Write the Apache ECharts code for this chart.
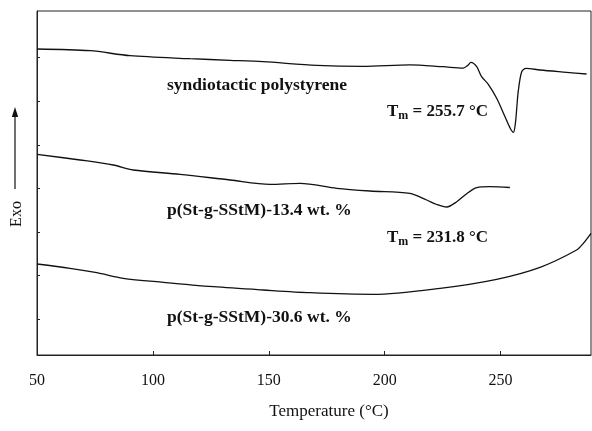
<!DOCTYPE html>
<html>
<head>
<meta charset="utf-8">
<script src="https://cdn.jsdelivr.net/npm/echarts@6/dist/echarts.min.js"></script>
<style>
html,body{margin:0;padding:0;background:#fff;}
#chart{width:592px;height:431px;}
</style>
</head>
<body>
<div id="chart"></div>
<script>
// Temperature (°C) and heat flow (arbitrary units, exo up)
var sPSTemp = [50, 72.9, 90.1, 116, 133.3, 147.5, 170.7, 190.6, 210.9, 225.2, 233.9, 235.8, 237.2, 239.7, 241.8, 244.7, 248.3, 251.9, 254.2, 255.5, 256.4, 257.6, 259.1, 261, 267, 278.5, 287.1];
var sPSValue = [306, 304.3, 299.3, 296.3, 294.7, 293.3, 289.7, 288.7, 290.2, 288.3, 286.9, 289.5, 292.7, 288.3, 278.3, 270.7, 256.7, 238.3, 226.5, 222.7, 232, 263.3, 283.3, 286.7, 285, 282.7, 281];

var g134Temp = [50, 68.6, 82.9, 91.5, 111.7, 133.3, 150.5, 163.5, 179.3, 193.7, 210.9, 218.1, 222.5, 226.7, 231.1, 235.5, 239.7, 245.4, 254];
var g134Value = [200.7, 195, 190, 185, 180.7, 175, 170.7, 171.7, 166.7, 164, 161.7, 155, 150.5, 148, 153.3, 161.5, 167.3, 168.3, 167.5];

var g306Temp = [50, 64.2, 75.8, 87.2, 104.5, 126.1, 147.6, 167.8, 195.1, 223.9, 248.3, 267, 282.8, 285.7, 289];
var g306Value = [91, 86.7, 82.3, 76.7, 72.7, 68.3, 65, 62.3, 60.7, 66.7, 75.7, 87.7, 105, 111.7, 121.7];

var xTickLabels = [50, 100, 150, 200, 250];
var yTickValues = [35.7, 79.3, 122.9, 166.5, 210.1, 253.7, 297.3];

function pairs(xs, ys) { return xs.map(function (x, i) { return [x, ys[i]]; }); }

var FONT = '"Liberation Serif", "DejaVu Serif", serif';
var chart = echarts.init(document.getElementById('chart'), null, {renderer: 'canvas'});

var lineStyle = {color: '#111', width: 1.3};
function mkSeries(name, data) {
  return {
    name: name, type: 'line', data: data, showSymbol: false, symbol: 'none',
    smooth: 0.3, lineStyle: lineStyle, silent: true, animation: false
  };
}

var tmRich = {
  b: {font: 'bold 17px ' + FONT, fill: '#111'},
  s: {font: 'bold 12px ' + FONT, fill: '#111', padding: [9, 0, 0, 0]}
};

chart.setOption({
  backgroundColor: '#fff',
  animation: false,
  grid: {left: 37, right: 1, top: 11, bottom: 76, show: true, borderColor: '#222', borderWidth: 1},
  xAxis: {
    type: 'value', min: 50, max: 289, interval: 50,
    axisLine: {show: true, lineStyle: {color: '#222', width: 1}},
    axisTick: {show: true, inside: true, length: 4, customValues: [100, 150, 200, 250], lineStyle: {color: '#222'}},
    axisLabel: {show: true, customValues: xTickLabels, margin: 18, color: '#111', fontFamily: FONT, fontSize: 16},
    splitLine: {show: false}
  },
  yAxis: {
    type: 'value', min: 0, max: 344,
    axisLine: {show: true, lineStyle: {color: '#222', width: 1}},
    axisTick: {show: true, inside: true, length: 3, customValues: yTickValues, lineStyle: {color: '#222'}},
    axisLabel: {show: false},
    splitLine: {show: false}
  },
  series: [
    mkSeries('syndiotactic polystyrene', pairs(sPSTemp, sPSValue)),
    mkSeries('p(St-g-SStM)-13.4 wt. %', pairs(g134Temp, g134Value)),
    mkSeries('p(St-g-SStM)-30.6 wt. %', pairs(g306Temp, g306Value))
  ],
  graphic: [
    {type: 'text', left: 167, top: 76, style: {text: 'syndiotactic polystyrene', font: 'bold 17.5px ' + FONT, fill: '#111'}},
    {type: 'text', left: 167, top: 201, style: {text: 'p(St-g-SStM)-13.4 wt. %', font: 'bold 17.5px ' + FONT, fill: '#111'}},
    {type: 'text', left: 167, top: 308, style: {text: 'p(St-g-SStM)-30.6 wt. %', font: 'bold 17.5px ' + FONT, fill: '#111'}},
    {type: 'text', left: 387, top: 103, style: {text: '{b|T}{s|m}{b| = 255.7 °C}', rich: tmRich}},
    {type: 'text', left: 387, top: 229, style: {text: '{b|T}{s|m}{b| = 231.8 °C}', rich: tmRich}},
    {type: 'text', x: 329, y: 412, style: {text: 'Temperature (°C)', font: '17px ' + FONT, fill: '#111', align: 'center', verticalAlign: 'middle'}},
    {type: 'text', x: 17, y: 214, rotation: Math.PI / 2, style: {text: 'Exo', font: '16px ' + FONT, fill: '#111', align: 'center', verticalAlign: 'middle'}},
    {type: 'line', shape: {x1: 15, y1: 189, x2: 15, y2: 114}, style: {stroke: '#111', lineWidth: 1.2}},
    {type: 'polygon', shape: {points: [[15, 107], [11.8, 117], [18.2, 117]]}, style: {fill: '#111'}}
  ]
});
</script>
</body>
</html>
